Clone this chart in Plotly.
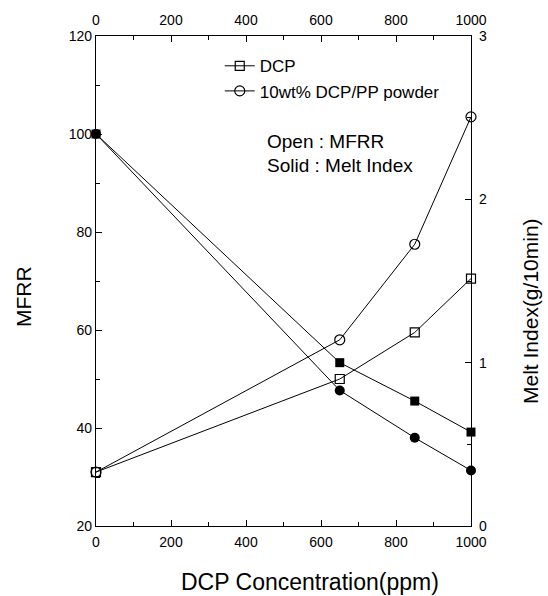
import plotly.graph_objects as go

# ---- data ----
dcp_conc = [0, 650, 850, 1000]
mfrr_dcp = [31, 50, 59.5, 70.5]
mfrr_powder = [31, 58, 77.5, 103.5]
mi_dcp = [2.4, 1.0, 0.765, 0.575]
mi_powder = [2.4, 0.83, 0.54, 0.34]

x_ticks = [0, 200, 400, 600, 800, 1000]
left_ticks = [20, 40, 60, 80, 100, 120]
right_ticks = [0, 1, 2, 3]

FONT = "Liberation Sans, Arial, sans-serif"
BLACK = "black"

fig = go.Figure()

fig.add_trace(go.Scatter(
    x=dcp_conc, y=mfrr_dcp, name="DCP", mode="lines+markers",
    line=dict(color=BLACK, width=1),
    marker=dict(symbol="square-open", size=9, color=BLACK, line=dict(width=1.2)),
    cliponaxis=False, xaxis="x", yaxis="y"))
fig.add_trace(go.Scatter(
    x=dcp_conc, y=mfrr_powder, name="10wt% DCP/PP powder", mode="lines+markers",
    line=dict(color=BLACK, width=1),
    marker=dict(symbol="circle-open", size=10, color=BLACK, line=dict(width=1.2)),
    cliponaxis=False, xaxis="x", yaxis="y"))
fig.add_trace(go.Scatter(
    x=dcp_conc, y=mi_dcp, name="DCP MI", mode="lines+markers", showlegend=False,
    line=dict(color=BLACK, width=1),
    marker=dict(symbol="square", size=9, color=BLACK),
    cliponaxis=False, xaxis="x2", yaxis="y2"))
fig.add_trace(go.Scatter(
    x=dcp_conc, y=mi_powder, name="powder MI", mode="lines+markers", showlegend=False,
    line=dict(color=BLACK, width=1),
    marker=dict(symbol="circle", size=10, color=BLACK),
    cliponaxis=False, xaxis="x2", yaxis="y2"))

axis_common = dict(
    showline=True, linecolor=BLACK, linewidth=1.3, showgrid=False, zeroline=False,
    ticks="inside", ticklen=6, tickwidth=1, tickcolor=BLACK,
    tickfont=dict(family=FONT, size=14, color=BLACK),
)

# pixel positions of the plot area (used to place free-standing titles)
L, R, T, B = 96, 548 - 77, 36, 596 - 70


def px(x):
    return (x - L) / (R - L)


def py(y):
    return (B - y) / (B - T)


fig.update_layout(
    width=548, height=596,
    margin=dict(l=L, r=548 - R, t=T, b=596 - B),
    paper_bgcolor="white", plot_bgcolor="white",
    font=dict(family=FONT, color=BLACK),
    xaxis=dict(range=[0, 1000], tickvals=x_ticks, anchor="y", ticklabelstandoff=3,
               minor=dict(ticks="inside", ticklen=4, dtick=100, tickcolor=BLACK),
               **axis_common),
    xaxis2=dict(range=[0, 1000], tickvals=x_ticks, side="top", overlaying="x", anchor="y2",
                ticklabelstandoff=4,
                minor=dict(ticks="inside", ticklen=4, dtick=100, tickcolor=BLACK),
                **axis_common),
    yaxis=dict(range=[20, 120], tickvals=left_ticks, anchor="x",
               minor=dict(ticks="inside", ticklen=4, dtick=10, tickcolor=BLACK),
               **axis_common),
    yaxis2=dict(range=[0, 3], tickvals=right_ticks, side="right", overlaying="y", anchor="x2",
                ticklabelstandoff=4,
                minor=dict(ticks="inside", ticklen=4, dtick=0.5, tickcolor=BLACK),
                **axis_common),
    showlegend=True,
    legend=dict(x=0.33, y=0.975, xanchor="left", yanchor="top",
                bgcolor="rgba(0,0,0,0)", borderwidth=0,
                font=dict(family=FONT, size=17, color=BLACK),
                itemwidth=30, tracegroupgap=0),
    annotations=[
        dict(text="Open : MFRR", x=px(265), y=py(141), xref="paper", yref="paper",
             xanchor="left", yanchor="middle", showarrow=False,
             font=dict(family=FONT, size=19, color=BLACK)),
        dict(text="Solid : Melt Index", x=px(265), y=py(166), xref="paper", yref="paper",
             xanchor="left", yanchor="middle", showarrow=False,
             font=dict(family=FONT, size=19, color=BLACK)),
        dict(text="MFRR", x=px(23), y=py(297), xref="paper", yref="paper",
             xanchor="center", yanchor="middle", showarrow=False, textangle=-90,
             font=dict(family=FONT, size=21, color=BLACK)),
        dict(text="Melt Index(g/10min)", x=px(530), y=py(311), xref="paper", yref="paper",
             xanchor="center", yanchor="middle", showarrow=False, textangle=-90,
             font=dict(family=FONT, size=21, color=BLACK)),
        dict(text="DCP Concentration(ppm)", x=px(310), y=py(582), xref="paper", yref="paper",
             xanchor="center", yanchor="middle", showarrow=False,
             font=dict(family=FONT, size=23, color=BLACK)),
    ],
)

fig.write_html("out.html")
